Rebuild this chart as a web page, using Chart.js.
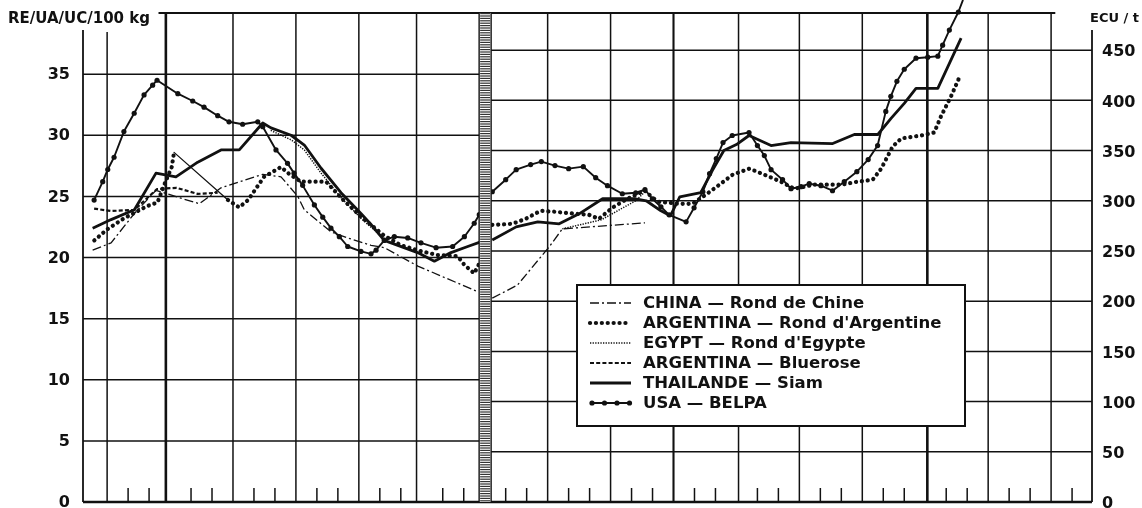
<!DOCTYPE html>
<html>
<head>
<meta charset="utf-8">
<script src="https://cdn.jsdelivr.net/npm/chart.js@4.4.0/dist/chart.umd.min.js"></script>
<style>
  html, body { margin: 0; padding: 0; background: #fff; }
  #wrap { width: 1142px; height: 508px; }
</style>
</head>
<body>
<div id="wrap"><canvas id="riceChart" width="1142" height="508"></canvas></div>
<script>
// x values are months from the start of the chart; left part in RE/UA/UC per 100 kg, right part in ECU per t
const leftTicks = [0, 5, 10, 15, 20, 25, 30, 35];
const rightTicks = [0, 50, 100, 150, 200, 250, 300, 350, 400, 450];
const majorGridMonths = [1, 3.8, 7, 10, 13, 15.75, 22, 25, 28, 31.1, 34, 37, 40.1, 43, 46];
const minorTickMonths = [2, 3, 5, 6, 8, 9, 11, 12, 14, 15, 17, 18, 20, 21, 23, 24, 26, 27, 29, 30, 32, 33, 35, 36, 38, 39, 41, 42, 44, 45, 47];
const unitChangeMonth = 19.02;

// CHINA - Rond de Chine
const chinaLeftMonths = [0.31, 1.19, 2.3, 3.33, 4.52, 5.4, 6.43, 7.5, 8.42, 9.29, 10.09, 10.4, 11.67, 12.47, 13.58, 14.22, 15.81, 18.67];
const chinaLeftValues = [20.6, 21.2, 23.6, 25.5, 24.85, 24.4, 25.7, 26.3, 26.8, 26.6, 25.0, 23.9, 22.1, 21.6, 21.0, 20.8, 19.3, 17.2];
const chinaRightMonths = [19.36, 20.56, 22.07, 22.7, 26.64];
const chinaRightValues = [203, 216, 254, 272, 278];

// ARGENTINA - Rond d'Argentine
const argLeftMonths = [0.39, 1.0, 1.8, 2.9, 3.4, 3.76, 4.08, 4.19, 6.76, 7.29, 7.72, 8.48, 9.29, 9.7, 10.24, 11.44, 12.2, 13.2, 14.2, 15.0, 16.0, 16.76, 17.71, 18.03, 18.5, 18.74];
const argLeftValues = [21.4, 22.3, 23.2, 24.2, 24.5, 26.1, 27.4, 28.6, 24.7, 24.1, 24.7, 26.6, 27.4, 26.8, 26.2, 26.2, 24.8, 23.2, 21.8, 21.0, 20.5, 20.2, 20.1, 19.4, 18.7, 19.5];
const argLinkIndex = 7;
const argRightMonths = [19.36, 20.31, 20.95, 21.66, 22.38, 23.33, 23.97, 24.44, 25.08, 25.72, 26.3, 26.64, 27.0, 27.31, 28.27, 28.9, 29.54, 30.19, 30.82, 31.62, 32.33, 33.12, 33.76, 34.7, 35.98, 36.78, 37.5, 37.9, 38.45, 38.85, 39.8, 40.43, 40.75, 41.23, 41.63];
const argRightValues = [276, 277, 282, 290, 289, 287, 286, 282, 293, 301, 307, 310, 303, 299, 297, 297, 306, 316, 326, 332, 326, 319, 312, 316, 316, 319, 321, 332, 354, 362, 365, 368, 384, 404, 423];

// EGYPT - Rond d'Egypte
const egyptLeftMonths = [8.8, 9.8, 10.4, 11.2, 12.15, 13.1, 13.9, 14.3];
const egyptLeftValues = [30.4, 29.6, 28.8, 26.9, 24.9, 23.2, 22.0, 21.5];
const egyptRightMonths = [22.7, 24.55, 26.2, 26.64];
const egyptRightValues = [272, 281, 300, 309];

// ARGENTINA - Bluerose
const blueroseMonths = [0.38, 1.19, 2.3, 3.38, 4.31, 5.32, 6.27];
const blueroseValues = [24.0, 23.8, 23.9, 25.6, 25.7, 25.2, 25.3];

// THAILANDE - Siam
const thaiLeftMonths = [0.31, 1.19, 2.3, 3.33, 4.28, 5.32, 6.43, 7.3, 8.42, 8.81, 9.77, 10.4, 11.2, 12.15, 13.1, 13.58, 14.21, 15.8, 16.6, 17.39, 18.19, 18.84];
const thaiLeftValues = [22.4, 23.1, 23.9, 26.9, 26.6, 27.8, 28.8, 28.8, 31.0, 30.6, 30.0, 29.2, 27.3, 25.3, 23.6, 22.7, 21.4, 20.4, 19.7, 20.4, 20.9, 21.3];
const thaiRightMonths = [19.36, 20.5, 21.53, 22.55, 23.5, 24.62, 26.2, 26.7, 27.4, 27.85, 28.3, 29.3, 29.85, 30.4, 31.0, 31.6, 32.65, 33.6, 35.59, 36.62, 37.74, 38.37, 39.0, 39.56, 40.6, 41.71];
const thaiRightValues = [261, 274, 279, 277, 287, 302, 302, 300, 290, 285, 304, 308, 330, 350, 356, 365, 355, 358, 357, 366, 366, 382, 397, 412, 412, 462];

// USA - BELPA
const usaLeftMonths = [0.38, 0.79, 1.03, 1.33, 1.8, 2.29, 2.76, 3.17, 3.38, 4.37, 5.08, 5.62, 6.27, 6.81, 7.46, 8.18, 8.42, 9.05, 9.6, 9.91, 10.32, 10.88, 11.28, 11.67, 12.07, 12.47, 13.1, 13.58, 13.82, 14.21, 14.69, 15.33, 15.96, 16.68, 17.47, 18.03, 18.5, 18.74];
const usaLeftValues = [24.7, 26.2, 27.2, 28.2, 30.3, 31.8, 33.3, 34.1, 34.5, 33.4, 32.8, 32.3, 31.6, 31.1, 30.9, 31.1, 30.7, 28.8, 27.7, 26.9, 25.9, 24.3, 23.3, 22.4, 21.7, 20.9, 20.5, 20.3, 20.6, 21.4, 21.7, 21.6, 21.2, 20.8, 20.9, 21.7, 22.8, 23.5];
const usaRightMonths = [19.36, 20.0, 20.5, 21.19, 21.7, 22.35, 23.0, 23.7, 24.29, 24.85, 25.56, 26.2, 26.64, 26.99, 27.4, 27.79, 28.6, 28.98, 29.4, 29.72, 30.04, 30.36, 30.8, 31.6, 32.0, 32.33, 32.65, 33.2, 33.6, 34.08, 34.47, 35.03, 35.58, 36.14, 36.74, 37.28, 37.73, 38.12, 38.36, 38.65, 39.0, 39.56, 40.12, 40.6, 40.83, 41.15, 41.58, 41.8];
const usaRightValues = [309, 321, 331, 336, 339, 335, 332, 334, 323, 315, 307, 308, 311, 302, 294, 286, 279, 293, 309, 327, 342, 358, 365, 368, 355, 345, 331, 321, 312, 314, 317, 315, 310, 319, 329, 341, 355, 389, 404, 419, 431, 442, 443, 444, 455, 470, 488, 500];

const FONT = "'DejaVu Sans', 'Liberation Sans', sans-serif";
const INK = '#111';

const styles = {
  china:    { label: 'CHINA — Rond de Chine', borderWidth: 1.3, borderDash: [9, 3, 2, 3], borderCapStyle: 'butt' },
  argRond:  { label: "ARGENTINA — Rond d'Argentine", borderWidth: 4.2, borderDash: [0.1, 5.8], borderCapStyle: 'round' },
  egypt:    { label: "EGYPT — Rond d'Egypte", borderWidth: 1.5, borderDash: [1.3, 1.3], borderCapStyle: 'butt' },
  bluerose: { label: 'ARGENTINA — Bluerose', borderWidth: 2.2, borderDash: [4, 2.2], borderCapStyle: 'butt' },
  thai:     { label: 'THAILANDE — Siam', borderWidth: 2.8, borderDash: [], borderCapStyle: 'butt' },
  usa:      { label: 'USA — BELPA', borderWidth: 1.9, borderDash: [], borderCapStyle: 'butt', pointRadius: 2.6 }
};
const legendOrder = ['china', 'argRond', 'egypt', 'bluerose', 'thai', 'usa'];

function pts(months, values) {
  return months.map((m, i) => ({ x: m, y: values[i] }));
}

function makeSet(key, data, axis, extra) {
  const s = styles[key];
  return Object.assign({
    label: s.label,
    data,
    yAxisID: axis,
    borderColor: INK,
    backgroundColor: INK,
    borderWidth: s.borderWidth,
    borderDash: s.borderDash,
    borderCapStyle: s.borderCapStyle,
    borderJoinStyle: 'round',
    pointRadius: s.pointRadius || 0,
    pointBorderWidth: 0,
    pointBackgroundColor: INK,
    tension: 0,
    fill: false
  }, extra || {});
}

const argLeft = pts(argLeftMonths, argLeftValues);

const datasets = [
  makeSet('china', pts(chinaLeftMonths, chinaLeftValues), 'yL'),
  makeSet('china', pts(chinaRightMonths, chinaRightValues), 'yR'),
  makeSet('argRond', argLeft.slice(0, argLinkIndex + 1), 'yL'),
  makeSet('argRond', argLeft.slice(argLinkIndex, argLinkIndex + 2), 'yL', { borderWidth: 1.3, borderDash: [] }),
  makeSet('argRond', argLeft.slice(argLinkIndex + 1), 'yL'),
  makeSet('argRond', pts(argRightMonths, argRightValues), 'yR'),
  makeSet('egypt', pts(egyptLeftMonths, egyptLeftValues), 'yL'),
  makeSet('egypt', pts(egyptRightMonths, egyptRightValues), 'yR'),
  makeSet('bluerose', pts(blueroseMonths, blueroseValues), 'yL'),
  makeSet('thai', pts(thaiLeftMonths, thaiLeftValues), 'yL'),
  makeSet('thai', pts(thaiRightMonths, thaiRightValues), 'yR', { clip: false }),
  makeSet('usa', pts(usaLeftMonths, usaLeftValues), 'yL'),
  makeSet('usa', pts(usaRightMonths, usaRightValues), 'yR', {
    clip: false,
    pointRadius: c => (c.raw && c.raw.y > 490 ? 0 : styles.usa.pointRadius)
  })
];

function seg(ctx, x1, y1, x2, y2) {
  ctx.beginPath();
  ctx.moveTo(x1, y1);
  ctx.lineTo(x2, y2);
  ctx.stroke();
}

const paperGrid = {
  id: 'paperGrid',
  beforeDatasetsDraw(chart) {
    const { ctx, chartArea: a, scales: { x, yL, yR } } = chart;
    const barX = x.getPixelForValue(unitChangeMonth);
    const axisTop = a.top + 17;
    ctx.save();
    ctx.strokeStyle = INK;
    ctx.lineWidth = 1.5;
    leftTicks.slice(1).forEach(v => {
      const y = yL.getPixelForValue(v);
      seg(ctx, a.left, y, barX, y);
    });
    rightTicks.slice(1).forEach(v => {
      const y = yR.getPixelForValue(v);
      seg(ctx, barX, y, a.right, y);
    });
    majorGridMonths.forEach(m => {
      const px = x.getPixelForValue(m);
      ctx.lineWidth = (m === 3.8 || m === 40.1) ? 2.6 : (m === 28 ? 2.1 : 1.5);
      seg(ctx, px, m === 1 ? axisTop + 2 : a.top, px, a.bottom);
    });
    ctx.lineWidth = 1.5;
    minorTickMonths.forEach(m => {
      const px = x.getPixelForValue(m);
      seg(ctx, px, a.bottom, px, a.bottom - 14);
    });
    // frame
    ctx.lineWidth = 1.8;
    seg(ctx, x.getPixelForValue(3.45), a.top, x.getPixelForValue(46.2), a.top);
    seg(ctx, a.left, axisTop, a.left, a.bottom);
    seg(ctx, a.right, axisTop, a.right, a.bottom);
    ctx.lineWidth = 2.6;
    seg(ctx, a.left, a.bottom, a.right, a.bottom);
    ctx.restore();
  },
  afterDatasetsDraw(chart) {
    const { ctx, chartArea: a, scales: { x } } = chart;
    const cx = x.getPixelForValue(unitChangeMonth);
    const bl = cx - 6, br = cx + 6;
    ctx.save();
    // hatched bar marking the change of unit
    ctx.fillStyle = '#fff';
    ctx.fillRect(bl, a.top, br - bl, a.bottom - a.top);
    ctx.fillStyle = '#333';
    for (let y = a.top; y < a.bottom; y += 2.4) {
      ctx.fillRect(bl + 1, y, br - bl - 2, 1.2);
    }
    ctx.strokeStyle = INK;
    ctx.lineWidth = 1.4;
    seg(ctx, bl, a.top, bl, a.bottom);
    seg(ctx, br, a.top, br, a.bottom);

    // legend box
    const lx = 577, ly = 285, lw = 388, lh = 141;
    ctx.fillStyle = '#fff';
    ctx.fillRect(lx, ly, lw, lh);
    ctx.lineWidth = 2;
    ctx.strokeRect(lx, ly, lw, lh);
    ctx.font = 'bold 16.5px ' + FONT;
    ctx.textBaseline = 'middle';
    legendOrder.forEach((key, i) => {
      const s = styles[key];
      const y = ly + 18 + i * 20;
      ctx.strokeStyle = INK;
      ctx.lineWidth = s.borderWidth;
      ctx.setLineDash(s.borderDash);
      ctx.lineCap = s.borderCapStyle;
      seg(ctx, lx + 13, y, lx + 54, y);
      ctx.setLineDash([]);
      ctx.lineCap = 'butt';
      if (s.pointRadius) {
        ctx.fillStyle = INK;
        for (let k = 0; k < 4; k++) {
          ctx.beginPath();
          ctx.arc(lx + 15 + k * 12.5, y, s.pointRadius, 0, Math.PI * 2);
          ctx.fill();
        }
      }
      ctx.fillStyle = INK;
      ctx.fillText(s.label, lx + 66, y + 1);
    });
    ctx.restore();
  },
  afterDraw(chart) {
    const { ctx, chartArea: a, scales: { yL, yR } } = chart;
    ctx.save();
    ctx.fillStyle = INK;
    ctx.textBaseline = 'middle';
    ctx.font = 'bold 16px ' + FONT;
    ctx.textAlign = 'right';
    leftTicks.forEach(v => ctx.fillText(String(v), a.left - 13, yL.getPixelForValue(v) + 1));
    ctx.textAlign = 'left';
    rightTicks.forEach(v => ctx.fillText(String(v), a.right + 10, yR.getPixelForValue(v) + 2));
    ctx.font = 'bold 15px ' + FONT;
    ctx.fillText('RE/UA/UC/100 kg', 8, 19);
    ctx.font = 'bold 13px ' + FONT;
    ctx.textAlign = 'right';
    ctx.fillText('ECU / t', 1139, 19);
    ctx.restore();
  }
};

new Chart(document.getElementById('riceChart'), {
  type: 'line',
  data: { datasets },
  options: {
    responsive: false,
    animation: false,
    devicePixelRatio: 1,
    layout: { padding: { top: 13, bottom: 6, left: 0, right: 0 } },
    plugins: { legend: { display: false }, tooltip: { enabled: false }, title: { display: false } },
    scales: {
      x: { type: 'linear', min: -0.15, max: 47.95, display: false },
      yL: {
        position: 'left',
        min: 0,
        max: 40,
        afterFit: s => { s.width = 83; },
        grid: { display: false, drawTicks: false },
        border: { display: false },
        ticks: { display: false }
      },
      yR: {
        position: 'right',
        min: 0,
        max: 487,
        afterFit: s => { s.width = 50; },
        grid: { display: false, drawTicks: false },
        border: { display: false },
        ticks: { display: false }
      }
    }
  },
  plugins: [paperGrid]
});
</script>
</body>
</html>
